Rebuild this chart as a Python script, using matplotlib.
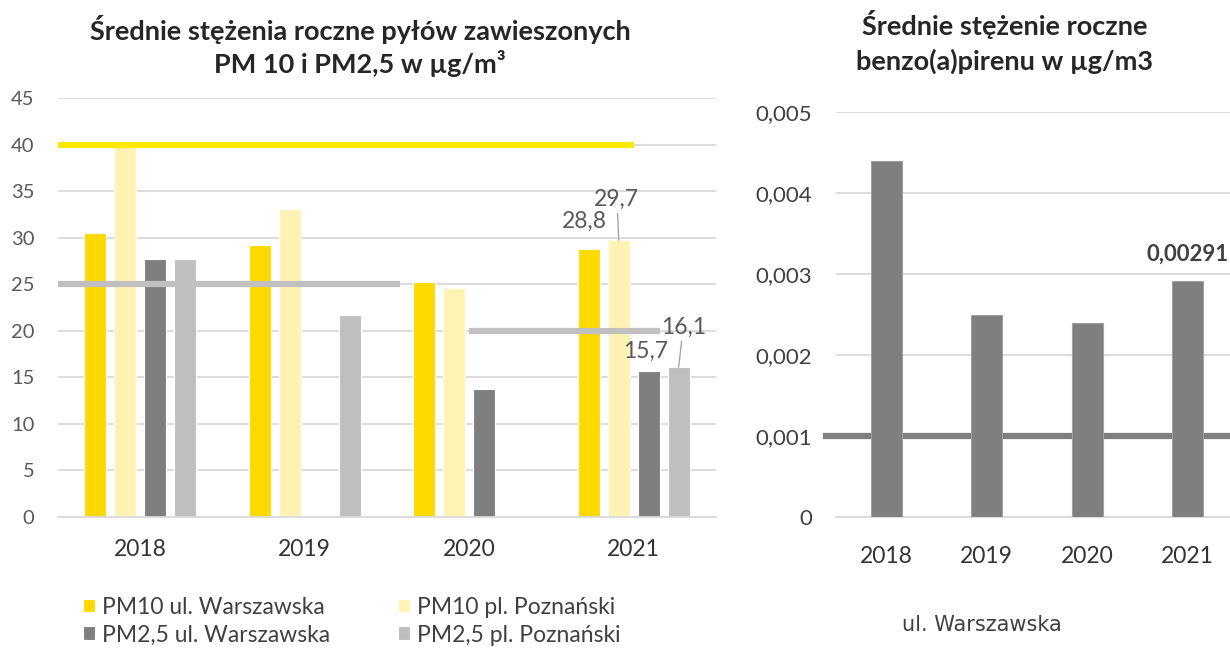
import matplotlib.pyplot as plt
import numpy as np

plt.rcParams['font.family'] = ['Lato', 'DejaVu Sans']

years = ['2018', '2019', '2020', '2021']
series_names = ['PM10 ul. Warszawska', 'PM10 pl. Poznański',
                'PM2,5 ul. Warszawska', 'PM2,5 pl. Poznański']
pm10_warszawska = [30.5, 29.2, 25.2, 28.8]
pm10_poznanski = [40.2, 33.1, 24.6, 29.7]
pm25_warszawska = [27.7, np.nan, 13.7, 15.7]
pm25_poznanski = [27.7, 21.7, np.nan, 16.1]
series_colors = ['#FFD900', '#FFF3B3', '#7F7F7F', '#BFBFBF']

# limit lines: level, (from, to) in category units
pm_limits = [40, 25, 20]
pm_limit_spans = [(-0.5, 3.0), (-0.5, 1.58), (2.0, 3.16)]
pm_limit_colors = ['#FFE800', '#C0C0C0', '#C0C0C0']

bap_values = [0.0044, 0.0025, 0.0024, 0.00291]
bap_limit = 0.001

W, H = 1230, 648
fig = plt.figure(figsize=(W / 100, H / 100), dpi=100)


def px_axes(left, right, top, bottom):
    return fig.add_axes([left / W, 1 - bottom / H, (right - left) / W, (bottom - top) / H])


def pl(v, fmt):
    return (fmt % v).replace('.', ',')


def style_axes(ax, ycolor):
    ax.grid(axis='y', color='#D9D9D9', lw=1.3, zorder=0)
    ax.set_axisbelow(True)
    for s in ['top', 'right', 'left']:
        ax.spines[s].set_visible(False)
    ax.spines['bottom'].set_color('#D9D9D9')
    ax.spines['bottom'].set_linewidth(1.3)
    ax.tick_params(axis='y', length=0, pad=17, labelsize=14.5, labelcolor=ycolor)
    ax.tick_params(axis='x', length=0, pad=16, labelsize=16.5, labelcolor='#333333')


# --- PM10 / PM2,5 ---
ax1 = px_axes(58, 716, 98, 517)
x = np.arange(len(years))
step, width = 0.182, 0.134
series = [pm10_warszawska, pm10_poznanski, pm25_warszawska, pm25_poznanski]
bars = []
for i, (vals, col, name) in enumerate(zip(series, series_colors, series_names)):
    b = ax1.bar(x + (i - 1.5) * step, vals, width, color=col, edgecolor='white',
                linewidth=0.8, label=name, zorder=2)
    bars.append(b)

for lvl, (x0, x1), col in zip(pm_limits, pm_limit_spans, pm_limit_colors):
    ax1.plot([x0, x1], [lvl, lvl], color=col, lw=4.5, solid_capstyle='butt', zorder=3)

ax1.set_xlim(-0.5, 3.5)
ax1.set_ylim(0, 45)
ax1.set_yticks(range(0, 46, 5))
ax1.set_xticks(x)
ax1.set_xticklabels(years)
style_axes(ax1, '#595959')

# value labels for 2021 (offsets in pixels from bar top)
label_offsets = [(-4, 27, False), (-2, 41, True), (-3, 19, False), (5, 40, True)]
for b, (dx, dy, leader) in zip(bars, label_offsets):
    rect = b[3]
    cx = rect.get_x() + rect.get_width() / 2
    top = rect.get_height()
    ax1.annotate(pl(top, '%.1f'), (cx, top), xytext=(dx, dy), textcoords='offset pixels',
                 ha='center', va='center', fontsize=16.5, color='#595959', zorder=4)
    if leader:
        ax1.annotate('', (cx, top), xytext=(dx * 0.6, dy - 14), textcoords='offset pixels',
                     arrowprops=dict(arrowstyle='-', color='#A6A6A6', lw=1, shrinkA=0, shrinkB=0))

# row-wise legend order
order = [0, 2, 1, 3]
fig.legend([bars[i] for i in order], [series_names[i] for i in order], ncol=2,
           loc='upper left', bbox_to_anchor=(62 / W, 1 - 576 / H),
           frameon=False, fontsize=16.5, handlelength=0.55, handleheight=0.55,
           handletextpad=0.3, columnspacing=2.95, labelspacing=0.3, labelcolor='#404040')

fig.text(360 / W, 1 - 46 / H, 'Średnie stężenia roczne pyłów zawieszonych\nPM 10 i PM2,5 w µg/m³',
         ha='center', va='center', fontsize=19.5, fontweight='bold', color='#262626',
         linespacing=1.3)

# --- benzo(a)piren ---
ax2 = px_axes(836, 1238, 112, 517)
b2 = ax2.bar(x, bap_values, 0.31, color='#7F7F7F', edgecolor='#A0A0A0', linewidth=0.8, zorder=3)
ax2.plot([-0.6, 3.6], [bap_limit, bap_limit], color='#7F7F7F', lw=4.5, zorder=2, clip_on=False)
ax2.set_xlim(-0.5, 3.5)
ax2.set_ylim(0, 0.005)
yt = [0, 0.001, 0.002, 0.003, 0.004, 0.005]
ax2.set_yticks(yt)
ax2.set_yticklabels(['0'] + [pl(v, '%.3f') for v in yt[1:]])
ax2.set_xticks(x)
ax2.set_xticklabels(years)
style_axes(ax2, '#404040')
ax2.tick_params(axis='y', labelsize=16)
ax2.tick_params(axis='x', pad=21)

last = b2[3]
ax2.annotate(pl(bap_values[3], '%.5f'), (last.get_x() + last.get_width() / 2, bap_values[3]),
             xytext=(0, 27), textcoords='offset pixels', ha='center', va='center',
             fontsize=16, fontweight='bold', color='#404040', annotation_clip=False)

fig.text(1005 / W, 1 - 42 / H, 'Średnie stężenie roczne\nbenzo(a)pirenu w µg/m3',
         ha='center', va='center', fontsize=19.5, fontweight='bold', color='#262626',
         linespacing=1.45)
fig.text(982 / W, 1 - 625 / H, 'ul. Warszawska', ha='center', va='center',
         fontsize=15, color='#404040', family=['DejaVu Sans'])

fig.savefig('out.png', dpi=100)
